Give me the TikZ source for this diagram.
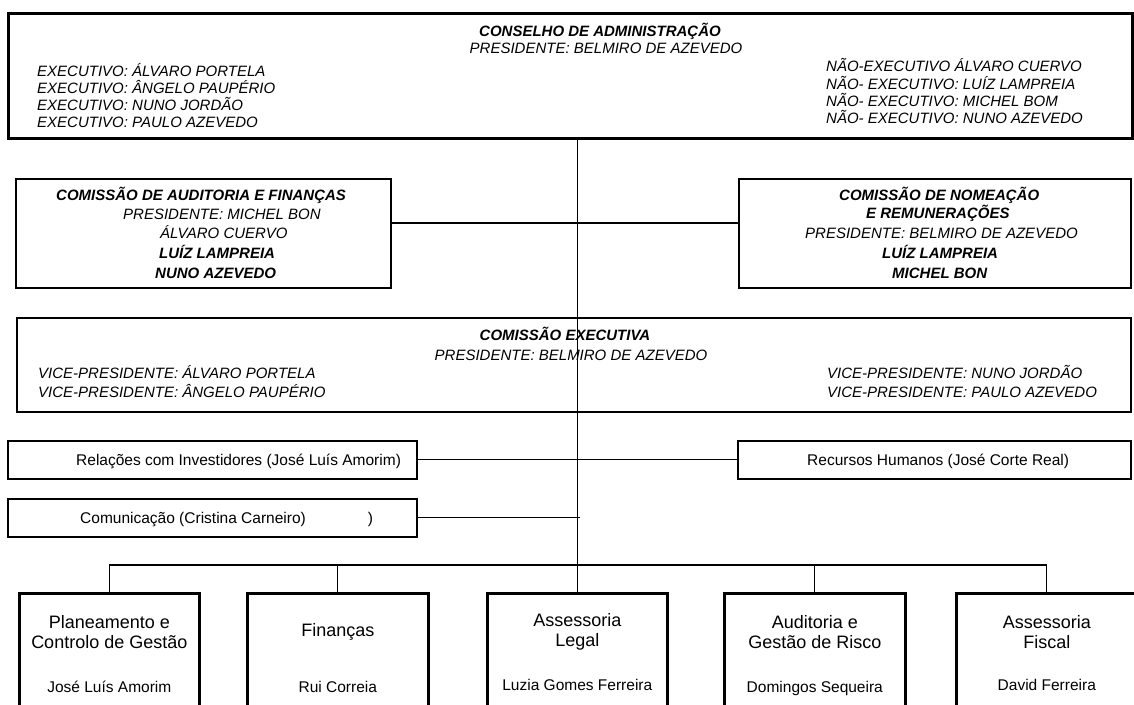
\documentclass[tikz,border=0pt]{standalone}
\usepackage{fontspec}
\setmainfont{Liberation Sans}
\usepackage{tikz}

\tikzset{
  frame/.style={draw, line width=1.5pt, inner sep=0pt, anchor=north west},
  heavyframe/.style={frame, line width=2.6pt},
  caps/.style={inner sep=0pt, anchor=base west, font=\fontsize{15}{18}\selectfont\itshape},
  capsbold/.style={caps, font=\fontsize{15}{18}\selectfont\bfseries\itshape},
  plain/.style={inner sep=0pt, anchor=base west, font=\fontsize{15.5}{18}\selectfont},
  unittitle/.style={inner sep=0pt, align=center, font=\fontsize{18}{20.5}\selectfont},
  link/.style={line width=1.2pt}
}

\begin{document}
\begin{tikzpicture}[x=1pt, y=-1pt]
        \useasboundingbox (0,0) rectangle (1134,704);
        \fill[white] (0,0) rectangle (1134,704);
        \clip (0,0) rectangle (1134,704);

        % BOXES
        % -----------------

        \node[heavyframe, minimum width=1124pt, minimum height=125pt] (board) at (7,12) {};
        \node[frame, minimum width=375pt, minimum height=109pt] (audit) at (15,178) {};
        \node[frame, minimum width=392pt, minimum height=109pt] (nomination) at (738,178) {};
        \node[frame, minimum width=1114pt, minimum height=94pt] (executive) at (16,317) {};
        \node[frame, minimum width=409pt, minimum height=38pt] (investors) at (7,440) {};
        \node[frame, minimum width=393pt, minimum height=38pt] (humanres) at (737,440) {};
        \node[frame, minimum width=409pt, minimum height=38pt] (communication) at (7,498) {};

        % Units (bottom row, cut by the page edge)
        \node[heavyframe, minimum width=180pt, minimum height=130pt] (planning) at (18,592) {};
        \node[heavyframe, minimum width=181pt, minimum height=130pt] (finance) at (246,592) {};
        \node[heavyframe, minimum width=180pt, minimum height=130pt] (legal) at (486,592) {};
        \node[heavyframe, minimum width=181pt, minimum height=130pt] (risk) at (723,592) {};
        \node[heavyframe, minimum width=181pt, minimum height=130pt] (tax) at (955,592) {};

        % EDGES
        % -----------------
        \coordinate (link) at (576,223);
        \coordinate (split) at (576,565);
        \coordinate (comend) at (580,517);

        \draw[link] (board.south -| legal.north) -- (legal.north);
        \draw[link] (audit.east |- link) -- (nomination.west |- link);
        \draw[link] (investors.east) -- (humanres.west);
        \draw[link] (communication.east) -- (communication.east -| comend);
        \draw[link] (planning.north) |- (split) -| (tax.north);
        \draw[link] (finance.north) -- (finance.north |- split);
        \draw[link] (risk.north) -- (risk.north |- split);

        % TEXTS
        % -----------------

        % Board
        \node[capsbold, anchor=base] (boardtitle) at (600,36) {CONSELHO DE ADMINISTRAÇÃO};
        \node[caps, anchor=base] (boardchair) at (606,53) {PRESIDENTE: BELMIRO DE AZEVEDO};
        \node[caps] (exec1) at (37,76) {EXECUTIVO: ÁLVARO PORTELA};
        \node[caps] (exec2) at (37,93) {EXECUTIVO: ÂNGELO PAUPÉRIO};
        \node[caps] (exec3) at (37,110) {EXECUTIVO: NUNO JORDÃO};
        \node[caps] (exec4) at (37,127) {EXECUTIVO: PAULO AZEVEDO};
        \node[caps] (nonexec1) at (826,71) {NÃO-EXECUTIVO ÁLVARO CUERVO};
        \node[caps] (nonexec2) at (826,89) {NÃO- EXECUTIVO: LUÍZ LAMPREIA};
        \node[caps] (nonexec3) at (826,106) {NÃO- EXECUTIVO: MICHEL BOM};
        \node[caps] (nonexec4) at (826,123) {NÃO- EXECUTIVO: NUNO AZEVEDO};

        % Audit committee
        \node[capsbold] (audittitle) at (56,200) {COMISSÃO DE AUDITORIA E FINANÇAS};
        \node[caps] (auditchair) at (123,219) {PRESIDENTE: MICHEL BON};
        \node[caps] (audit1) at (160,238) {ÁLVARO CUERVO};
        \node[capsbold] (audit2) at (159,258) {LUÍZ LAMPREIA};
        \node[capsbold] (audit3) at (155,278) {NUNO AZEVEDO};

        % Nomination committee
        \node[capsbold] (nomtitle) at (839,200) {COMISSÃO DE NOMEAÇÃO};
        \node[capsbold] (nomtitleb) at (866,218) {E REMUNERAÇÕES};
        \node[caps] (nomchair) at (805,238) {PRESIDENTE: BELMIRO DE AZEVEDO};
        \node[capsbold] (nom1) at (882,258) {LUÍZ LAMPREIA};
        \node[capsbold] (nom2) at (892,278) {MICHEL BON};

        % Executive committee
        \node[capsbold, anchor=base] (exectitle) at (565,340) {COMISSÃO EXECUTIVA};
        \node[caps, anchor=base] (execchair) at (571,360) {PRESIDENTE: BELMIRO DE AZEVEDO};
        \node[caps] (vice1) at (38,378) {VICE-PRESIDENTE: ÁLVARO PORTELA};
        \node[caps] (vice2) at (38,397) {VICE-PRESIDENTE: ÂNGELO PAUPÉRIO};
        \node[caps] (vice3) at (827,378) {VICE-PRESIDENTE: NUNO JORDÃO};
        \node[caps] (vice4) at (827,397) {VICE-PRESIDENTE: PAULO AZEVEDO};

        % Staff functions
        \node[plain] (investorstext) at (76,465) {Relações com Investidores (José Luís Amorim)};
        \node[plain] (humanrestext) at (807,465) {Recursos Humanos (José Corte Real)};
        \node[plain] (communicationtext) at (80,523) {Comunicação (Cristina Carneiro)\hspace{62pt})};

        % Units
        \node[unittitle] (planningtitle) at ([yshift=-40pt]planning.north) {Planeamento e\\Controlo de Gestão};
        \node[unittitle] (financetitle) at ([yshift=-40pt]finance.north) {Finanças};
        \node[unittitle] (legaltitle) at ([yshift=-40pt]legal.north) {Assessoria\\Legal};
        \node[unittitle] (risktitle) at ([yshift=-40pt]risk.north) {Auditoria e\\Gestão de Risco};
        \node[unittitle] (taxtitle) at ([yshift=-40pt]tax.north) {Assessoria\\Fiscal};

        \node[plain, anchor=base] (planninghead) at ([yshift=-100pt]planning.north) {José Luís Amorim};
        \node[plain, anchor=base] (financehead) at ([yshift=-100pt]finance.north) {Rui Correia};
        \node[plain, anchor=base] (legalhead) at ([yshift=-98pt]legal.north) {Luzia Gomes Ferreira};
        \node[plain, anchor=base] (riskhead) at ([yshift=-100pt]risk.north) {Domingos Sequeira};
        \node[plain, anchor=base] (taxhead) at ([yshift=-98pt]tax.north) {David Ferreira};

    \end{tikzpicture}
\end{document}
